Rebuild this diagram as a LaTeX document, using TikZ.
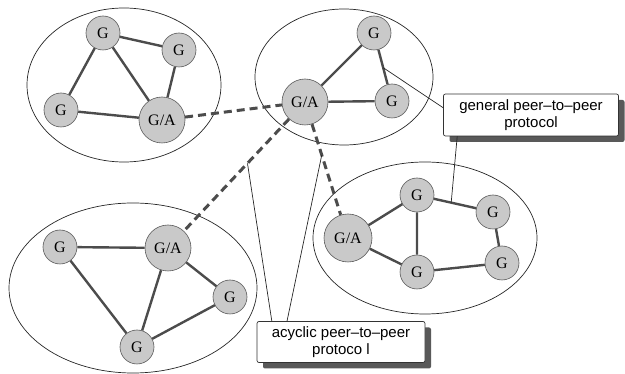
\documentclass[tikz,border=0pt]{standalone}
\usepackage{fontspec}
\setmainfont{Liberation Serif}
\newfontfamily\labelfont[Ligatures=TeX]{Liberation Sans}
\usetikzlibrary{calc,shadows,shapes.geometric}
\tikzset{
  gnode/.style={circle, draw=black!65, line width=0.6pt, fill=black!21, inner sep=0pt, minimum size=34pt, font=\fontsize{16}{16}\selectfont},
  anode/.style={gnode, minimum size=46pt},
  cluster/.style={ellipse, draw=black!85, line width=0.7pt, inner sep=0pt},
  link/.style={draw=black!70, line width=2.4pt},
  overlay link/.style={draw=black!70, line width=3pt, dash pattern=on 8pt off 5pt},
  note/.style={draw=black!80, line width=0.7pt, fill=white, rounded corners=2pt, align=center, inner sep=0pt,
    font=\labelfont\fontsize{15}{17}\selectfont,
    drop shadow={shadow xshift=6pt, shadow yshift=-6pt, fill=black!65, opacity=1}},
  pointer/.style={draw=black!85, line width=0.7pt}
}
\begin{document}
\begin{tikzpicture}[x=1pt,y=-1pt]
\useasboundingbox (0,0) rectangle (625,374);
% clusters
\node[cluster, minimum width=194pt, minimum height=154pt] (c1) at (124,85) {};
\node[cluster, minimum width=178pt, minimum height=136pt] (c2) at (344,77) {};
\node[cluster, minimum width=248pt, minimum height=170pt] (c3) at (133,288) {};
\node[cluster, minimum width=224pt, minimum height=152pt] (c4) at (425,238) {};
% top-left group
\node[gnode] (a1) at (103,33) {G};
\node[gnode] (a2) at (179,50) {G};
\node[gnode] (a3) at (61,110) {G};
\node[anode] (aA) at (162,120) {G/A};
% top-middle group
\node[gnode] (b1) at (374,33) {G};
\node[gnode] (b2) at (392,101) {G};
\node[anode] (bA) at (305,102) {G/A};
% bottom-left group
\node[gnode] (d1) at (60,247) {G};
\node[anode] (dA) at (168,248) {G/A};
\node[gnode] (d2) at (230,297) {G};
\node[gnode] (d3) at (137,347) {G};
% right group
\node[anode, minimum size=48pt] (eA) at (348,238) {G/A};
\node[gnode] (e1) at (417,195) {G};
\node[gnode] (e2) at (417,272) {G};
\node[gnode] (e3) at (493,212) {G};
\node[gnode] (e4) at (502,263) {G};
% intra-group links
\draw[link] (a1) -- (a2) (a1) -- (a3) (a1) -- (aA) (a2) -- (aA) (a3) -- (aA);
\draw[link] (b1) -- (b2) (b1) -- (bA) (bA) -- (b2);
\draw[link] (d1) -- (dA) (d1) -- (d3) (dA) -- (d3) (dA) -- (d2) (d2) -- (d3);
\draw[link] (eA) -- (e1) (eA) -- (e2) (e1) -- (e2) (e1) -- (e3) (e3) -- (e4) (e4) -- (e2);
% inter-group links
\draw[overlay link] (aA) -- (bA);
\draw[overlay link] (bA) -- (dA);
\draw[overlay link] (bA) -- (eA);
% labels
\node[note, minimum width=175pt, minimum height=42pt] (gen) at (531,115) {general peer–to–peer\\protocol};
\node[note, minimum width=168pt, minimum height=41pt] (acy) at (341,342) {acyclic peer–to–peer\\protoco l};
% pointers
\coordinate (p1) at ($(b1)!0.51!(b2)$);
\coordinate (p2) at ($(e1)!0.45!(e3)$);
\coordinate (p3) at ($(bA)!0.42!(dA)$);
\coordinate (p4) at ($(bA)!0.39!(eA)$);
\draw[pointer] (p1) -- ($(gen.north west)!0.33!(gen.south west)$);
\draw[pointer] ($(gen.south west)!0.08!(gen.south east)$) -- (p2);
\draw[pointer] ($(acy.north west)!0.09!(acy.north east)$) -- (p3);
\draw[pointer] ($(acy.north west)!0.18!(acy.north east)$) -- (p4);
\end{tikzpicture}
\end{document}
